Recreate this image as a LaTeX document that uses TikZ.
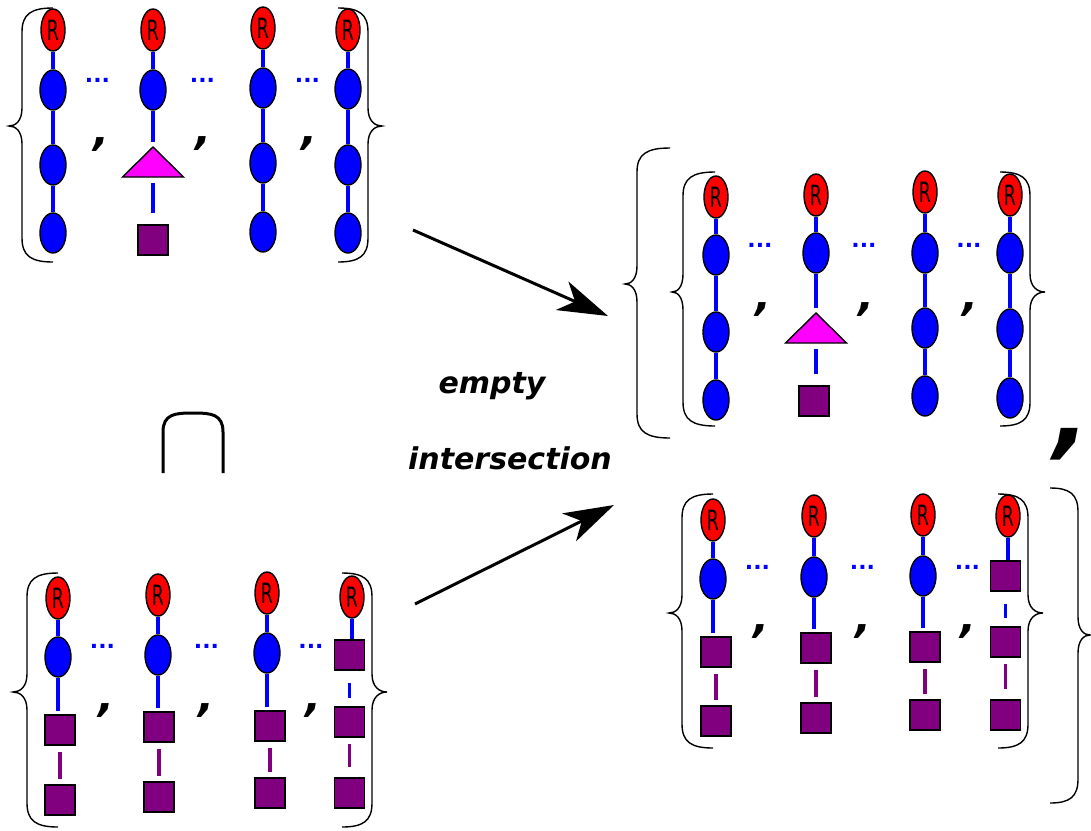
\documentclass[tikz,border=0pt]{standalone}
\usepackage{graphicx}
\usepackage{fontspec}
\setmainfont{DejaVu Sans}
\usetikzlibrary{arrows.meta,shapes.geometric,calc}
\definecolor{purp}{RGB}{128,0,128}
\definecolor{mag}{RGB}{255,0,255}
\newcommand\Rt{\fontsize{28}{28}\selectfont\scalebox{0.62}[1]{R}}
\tikzset{
 rn/.style={ellipse,draw=black,fill=red,line width=1.4pt,minimum width=24pt,minimum height=42pt,inner sep=0pt},
 bn/.style={ellipse,draw=black,fill=blue,line width=1.4pt,minimum width=26pt,minimum height=40pt,inner sep=0pt},
 sqbox/.style={rectangle,draw=black,fill=purp,line width=1.5pt,minimum size=30pt,inner sep=0pt},
 bline/.style={draw=blue,line width=3.5pt},
 pline/.style={draw=purp,line width=3.2pt},
 brc/.style={draw=black,line width=1.4pt},
 comma/.style={inner sep=0pt,font=\fontsize{42}{42}\selectfont\bfseries\itshape},
 dotstxt/.style={inner sep=0pt,text=blue,font=\fontsize{22}{22}\selectfont\bfseries},
 trishape/.style={draw=black,fill=mag,line width=1.4pt,line join=miter},
 arr/.style={draw=black,line width=3pt,-{Stealth[length=50pt,width=31pt,inset=14pt]}},
 labtxt/.style={inner sep=0pt,anchor=base,font=\fontsize{30}{30}\selectfont\bfseries\itshape},
}
% column: R + three blue ellipses
\newcommand\ColB[6]{%
 \node[rn] (#1r) at (#2,#3) {\Rt};
 \node[bn] (#1a) at (#2,#4) {};
 \node[bn] (#1b) at (#2,#5) {};
 \node[bn] (#1c) at (#2,#6) {};
 \draw[bline] (#1r) -- (#1a);
 \draw[bline] (#1a) -- (#1b);
 \draw[bline] (#1b) -- (#1c);}
% column: R + blue + triangle + square
\newcommand\ColT[7]{%
 \node[rn] (#1r) at (#2,#3) {\Rt};
 \node[bn] (#1a) at (#2,#4) {};
 \coordinate (#1t) at (#2,#5);
 \coordinate (#1u) at (#2,#5+30);
 \draw[trishape] (#1t) -- ($(#1u)+(-30.5,0)$) -- ($(#1u)+(30.5,0)$) -- cycle;
 \node[sqbox] (#1s) at (#6,#7) {};
 \draw[bline] (#1r) -- (#1a);
 \draw[bline,shorten >=5.5pt] (#1a) -- (#1t);
 \draw[bline,shorten <=6pt,shorten >=11pt] (#1u) -- (#1u |- #1s.north);}
% column: R + blue + two squares
\newcommand\ColS[7]{%
 \node[rn] (#1r) at (#2,#3) {\Rt};
 \node[bn] (#1a) at (#2,#4) {};
 \node[sqbox] (#1s) at (#5,#6) {};
 \node[sqbox] (#1q) at (#5,#7) {};
 \draw[bline] (#1r) -- (#1a);
 \draw[bline,shorten >=3pt] (#1a.south) -- (#1a |- #1s.north);
 \draw[pline,shorten <=6pt,shorten >=5pt] (#1s) -- (#1q);}
% column: R + three squares
\newcommand\ColQ[7]{%
 \node[rn] (#1r) at (#2,#3) {\Rt};
 \node[sqbox] (#1s) at (#4,#5) {};
 \node[sqbox] (#1q) at (#4,#6) {};
 \node[sqbox] (#1w) at (#4,#7) {};
 \draw[bline] (#1r.south) -- (#1r |- #1s.north);
 \draw[bline,shorten <=12pt,shorten >=8pt] (#1s) -- (#1q);
 \draw[pline,shorten <=6pt,shorten >=10pt] (#1q) -- (#1w);}
% brace: xend ytop ybot xbody xtip ytip
\newcommand\Brace[6]{%
 \draw[brc] (#1,#2) .. controls ({#4+0.3*(#1-#4)},#2) and (#4,#2+6) .. (#4,#2+24)
   -- (#4,#6-18) .. controls (#4,#6-5) and ({#5+0.5*(#4-#5)},#6) .. (#5,#6)
   .. controls ({#5+0.5*(#4-#5)},#6) and (#4,#6+5) .. (#4,#6+18)
   -- (#4,#3-24) .. controls (#4,#3-6) and ({#4+0.3*(#1-#4)},#3) .. (#1,#3);}
\begin{document}
\begin{tikzpicture}[x=1pt,y=-1pt]
\useasboundingbox (0,0) rectangle (1091,830);
% ---------- panel A (top left)
\ColB{A1}{53}{30}{90}{165}{233}
\ColT{A2}{153}{30}{90}{147}{153}{240}
\ColB{A3}{263}{28}{88}{163}{232}
\ColB{A4}{348}{30}{89}{165}{233}
\node[dotstxt] (Ad1) at (97.5,80) {...};
\node[dotstxt] (Ad2) at (202.5,80) {...};
\node[dotstxt] (Ad3) at (307.5,80) {...};
\node[comma] (Ac1) at (101,145) {,};
\node[comma] (Ac2) at (203,144) {,};
\node[comma] (Ac3) at (309,144) {,};
\Brace{53}{8}{262}{22}{9}{126}
\Brace{338}{8}{262}{368}{382}{126}
% ---------- panel B (bottom left)
\ColS{B1}{58}{598}{657}{60}{730}{800}
\ColS{B2}{158}{595}{655}{159}{727}{797}
\ColS{B3}{267}{593}{653}{270}{726}{793}
\ColQ{B4}{352}{597}{349.5}{655}{722}{793}
\node[dotstxt] (Bd1) at (102.5,646) {...};
\node[dotstxt] (Bd2) at (206.5,646) {...};
\node[dotstxt] (Bd3) at (311,646) {...};
\node[comma] (Bc1) at (106,711) {,};
\node[comma] (Bc2) at (206,711) {,};
\node[comma] (Bc3) at (313,711) {,};
\Brace{58}{573}{827}{27}{13}{692}
\Brace{342}{573}{827}{372}{387}{692}
% ---------- intersection sign
\draw[line width=3pt] (163,473) -- (163,432) .. controls (163,414) and (175,413) .. (193,413)
  .. controls (211,413) and (223,414) .. (223,432) -- (223,473);
% ---------- panel C (top right)
\ColB{C1}{716}{197}{255}{332}{400}
\ColT{C2}{816}{195}{253}{313}{814}{401}
\ColB{C3}{925}{192}{253}{328}{396}
\ColB{C4}{1010}{195}{253}{329}{398}
\node[dotstxt] (Cd1) at (760,245) {...};
\node[dotstxt] (Cd2) at (864,245) {...};
\node[dotstxt] (Cd3) at (969,245) {...};
\node[comma] (Cc1) at (763,310) {,};
\node[comma] (Cc2) at (866,310) {,};
\node[comma] (Cc3) at (970,310) {,};
\Brace{715}{172}{426}{683}{672}{292}
\Brace{1000}{172}{426}{1030}{1045}{292}
\Brace{670}{148}{438}{637}{625}{284}
% ---------- panel D (bottom right)
\ColS{D1}{713}{520}{579}{716}{652}{721}
\ColS{D2}{814}{516}{577}{816}{648}{718}
\ColS{D3}{923}{515}{576}{925}{647}{715}
\ColQ{D4}{1008}{516}{1005.5}{576}{642}{715}
\node[dotstxt] (Dd1) at (757.5,567) {...};
\node[dotstxt] (Dd2) at (862.5,567) {...};
\node[dotstxt] (Dd3) at (967.5,567) {...};
\node[comma] (Dc1) at (761,632) {,};
\node[comma] (Dc2) at (863,632) {,};
\node[comma] (Dc3) at (968,632) {,};
\Brace{713}{494}{748}{682}{669}{613}
\Brace{998}{494}{748}{1028}{1043}{613}
\Brace{1050}{488}{803}{1078}{1090}{635}
% big comma
\node[comma,anchor=east,font=\fontsize{96}{96}\selectfont\bfseries\itshape] (bigc) at (1090,444) {,};
% arrows and label
\coordinate (a1s) at (413,230);
\coordinate (a1e) at (608,316);
\coordinate (a2s) at (415,604);
\coordinate (a2e) at (614,505);
\draw[arr] (a1s) -- (a1e);
\draw[arr] (a2s) -- (a2e);
\node[labtxt] (t1) at (492,393) {empty};
\node[labtxt] (t2) at (510,469) {intersection};
\end{tikzpicture}
\end{document}
